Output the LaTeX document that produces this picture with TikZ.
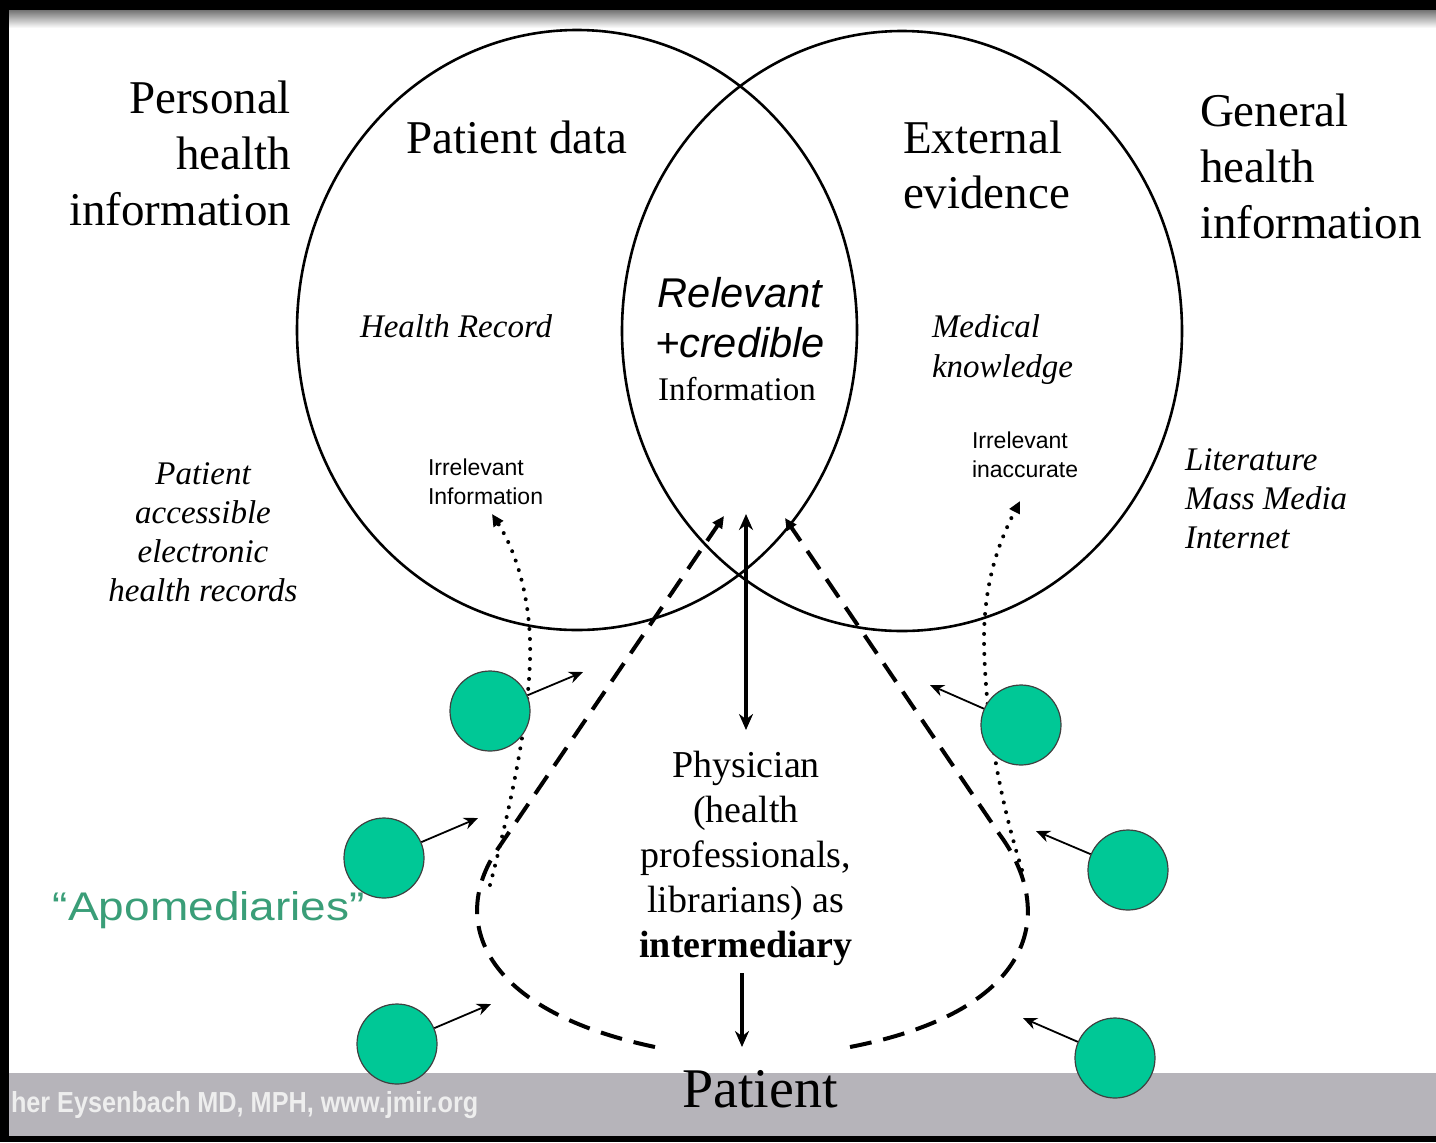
\documentclass[tikz,border=0pt]{standalone}
\usepackage{fontspec}
\setmainfont{Liberation Serif}
\setsansfont{Liberation Sans}
\usetikzlibrary{shapes.geometric,arrows.meta}
\definecolor{apocol}{RGB}{0,200,150}
\definecolor{apotext}{RGB}{58,158,120}
\definecolor{band}{RGB}{182,180,186}
\definecolor{foot}{RGB}{238,238,238}
\newcommand{\fsz}[2]{\fontsize{#1}{#2}\selectfont}
\begin{document}
\begin{tikzpicture}[x=0.5pt,y=-0.5pt,
  venn/.style={draw, line width=1.3pt, ellipse, minimum width=280pt, minimum height=300pt, inner sep=0pt},
  apo/.style={circle, draw=black!75, line width=0.6pt, fill=apocol, minimum size=40pt, inner sep=0pt},
  feed/.style={-{Stealth[length=7pt,width=6pt]}, line width=0.9pt},
  dashline/.style={line width=2pt, dash pattern=on 11pt off 6pt, -{Triangle[length=6pt,width=5.5pt]}},
  dotline/.style={line width=2pt, line cap=round, dash pattern=on 0pt off 5pt, -{Triangle[length=6pt,width=5.5pt]}},
  mainarrow/.style={line width=1.7pt},
  txt/.style={inner sep=0pt, outer sep=0pt}
]
\useasboundingbox (0,0) rectangle (1436,1142);
% frame
\fill[black] (0,0) rectangle (1436,1142);
\fill[white] (9,10) rectangle (1436,1136);
\shade[top color=black!55, bottom color=white] (9,10) rectangle (1436,28);
\fill[band] (9,1073) rectangle (1436,1136);

% Venn ellipses
\node[venn] (left) at (577,330) {};
\node[venn] (right) at (902,331) {};

% texts
\node[txt, anchor=north east, align=right, font=\fsz{23.5}{28}] (phi) at (291,81) {Personal\\health\\information};
\node[txt, anchor=north, font=\fsz{23.5}{28}] (pdata) at (517,121) {Patient data};
\node[txt, anchor=north west, align=left, font=\fsz{23.5}{27.5}] (ext) at (903,121) {External\\evidence};
\node[txt, anchor=north west, align=left, font=\fsz{23.5}{28}] (ghi) at (1200,94) {General\\health\\information};
\node[txt, anchor=north west, font=\fsz{16.5}{19.5}\itshape] (hrec) at (360,315) {Health Record};
\node[txt, anchor=north, align=center, font=\fsz{20.8}{25}\sffamily\itshape] (relc) at (740,277) {Relevant\\+credible};
\node[txt, anchor=north, font=\fsz{16.5}{20}] (info) at (737,377) {Information};
\node[txt, anchor=north west, align=left, font=\fsz{16.5}{19.8}\itshape] (medk) at (932,315) {Medical\\knowledge};
\node[txt, anchor=north west, align=left, font=\fsz{11.5}{14.5}\sffamily] (irr1) at (428,459) {Irrelevant\\Information};
\node[txt, anchor=north west, align=left, font=\fsz{11.5}{14.5}\sffamily] (irr2) at (972,432) {Irrelevant\\inaccurate};
\node[txt, anchor=north, align=center, font=\fsz{16.5}{19.5}\itshape] (pehr) at (203,463) {Patient\\accessible\\electronic\\health records};
\node[txt, anchor=north west, align=left, font=\fsz{16.5}{19.5}\itshape] (lit) at (1185,449) {Literature\\Mass Media\\Internet};
\node[txt, anchor=north, align=center, font=\fsz{19}{22.5}] (phys) at (746,751) {Physician\\(health\\professionals,\\librarians) as\\\textbf{intermediary}};
\node[txt, anchor=base, font=\fsz{28}{33}] (pat) at (760,1107) {Patient};
\node[txt, anchor=base west, font=\fsz{20}{24}\sffamily, text=apotext] (apom) at (53,920) {\scalebox{1.15}[1]{“Apomediaries”}};
\node[txt, anchor=base west, font=\fsz{14.5}{17}\sffamily\bfseries, text=foot] (footer) at (11,1112) {\scalebox{0.87}[1]{her Eysenbach MD, MPH, www.jmir.org}};

% coordinates
\coordinate (lt) at (724,516);
\coordinate (lm) at (497,850);
\coordinate (lb) at (655,1047);
\coordinate (rt) at (785,518);
\coordinate (rm) at (1000,835);
\coordinate (rb) at (850,1047);
\coordinate (dlb) at (490,885);
\coordinate (dlm) at (530,640);
\coordinate (dlt) at (492,514);
\coordinate (drb) at (1022,870);
\coordinate (drm) at (984,640);
\coordinate (drt) at (1020,501);
\coordinate (vt) at (746,514);
\coordinate (vb) at (746,730);
\coordinate (dt) at (742,973);
\coordinate (db) at (742,1047);

% dashed apomediation paths
\draw[dashline] (lb) .. controls (480,1010) and (450,920) .. (lm) -- (lt);
\draw[dashline] (rb) .. controls (1040,1010) and (1055,910) .. (rm) -- (rt);
% dotted paths
\draw[dotline] (dlb) .. controls (515,790) and (532,700) .. (dlm) .. controls (528,585) and (512,545) .. (dlt);
\draw[dotline] (drb) .. controls (1000,800) and (985,720) .. (drm) .. controls (984,580) and (1000,540) .. (drt);
% physician arrows
\draw[mainarrow, {Stealth[length=8pt,width=7pt]}-{Stealth[length=8pt,width=7pt]}] (vt) -- (vb);
\draw[mainarrow, -{Stealth[length=8pt,width=7pt]}] (dt) -- (db);

% apomediaries
\node[apo] (g1) at (490,711) {};
\node[apo] (g2) at (1021,725) {};
\node[apo] (g3) at (384,858) {};
\node[apo] (g4) at (1128,870) {};
\node[apo] (g5) at (397,1044) {};
\node[apo] (g6) at (1115,1058) {};
\coordinate (a1) at (583,672);
\coordinate (a2) at (930,685);
\coordinate (a3) at (478,818);
\coordinate (a4) at (1036,831);
\coordinate (a5) at (491,1004);
\coordinate (a6) at (1023,1018);
\draw[feed] (g1) -- (a1);
\draw[feed] (g2) -- (a2);
\draw[feed] (g3) -- (a3);
\draw[feed] (g4) -- (a4);
\draw[feed] (g5) -- (a5);
\draw[feed] (g6) -- (a6);
\end{tikzpicture}
\end{document}
